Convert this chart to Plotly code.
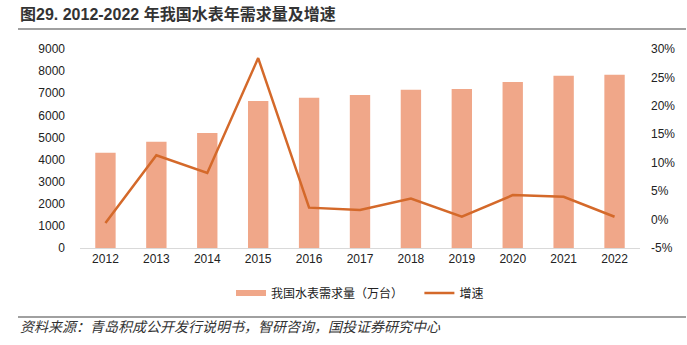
import plotly.graph_objects as go

years = ["2012", "2013", "2014", "2015", "2016", "2017", "2018", "2019", "2020", "2021", "2022"]
demand = [4310, 4810, 5200, 6650, 6800, 6920, 7160, 7195, 7510, 7795, 7840]
growth = [-0.6, 11.3, 8.2, 28.4, 2.1, 1.7, 3.7, 0.5, 4.3, 4.0, 0.5]

left_ticks = [0, 1000, 2000, 3000, 4000, 5000, 6000, 7000, 8000, 9000]
right_ticks = [-5, 0, 5, 10, 15, 20, 25, 30]

BAR_COLOR = "#F0A789"
LINE_COLOR = "#D4692A"
FONT = "Liberation Sans, Arial, Noto Sans CJK SC, sans-serif"
CJK = "Noto Sans CJK SC, sans-serif"

fig = go.Figure()
fig.add_trace(go.Bar(
    x=years, y=demand, name="我国水表需求量（万台）",
    marker=dict(color=BAR_COLOR, line=dict(width=0)),
    yaxis="y", showlegend=False,
))
# legend entry for the bars drawn as a wide swatch
fig.add_trace(go.Scatter(
    x=[None], y=[None], name="我国水表需求量（万台）\u3000\u00a0\u00a0", mode="lines",
    line=dict(color=BAR_COLOR, width=6), yaxis="y",
))
fig.add_trace(go.Scatter(
    x=years, y=growth, name="增速", mode="lines",
    line=dict(color=LINE_COLOR, width=2.5),
    yaxis="y2",
))

fig.update_layout(
    width=687, height=345,
    margin=dict(l=80, r=47, t=49, b=97),
    paper_bgcolor="white", plot_bgcolor="white",
    bargap=0.6,
    font=dict(family=FONT, size=12, color="#222"),
    showlegend=True,
    legend=dict(
        orientation="h", x=0.5, xanchor="center", y=-0.226, yanchor="middle",
        font=dict(family=CJK, size=12, color="#222"),
        itemwidth=30, tracegroupgap=0,
    ),
    xaxis=dict(
        showgrid=False, showline=True, linecolor="#D9D9D9", linewidth=1,
        ticks="", tickfont=dict(size=12, color="#222"),
    ),
    yaxis=dict(
        range=[0, 9000], tickvals=left_ticks, showgrid=False, zeroline=False,
        ticks="", tickfont=dict(size=12, color="#222"), ticklabelstandoff=14,
    ),
    yaxis2=dict(
        range=[-5, 30], tickvals=right_ticks, ticktext=[f"{v}%" for v in right_ticks],
        overlaying="y", side="right", showgrid=False, zeroline=False,
        ticks="", tickfont=dict(size=12, color="#222"), ticklabelstandoff=10,
    ),
    shapes=[
        dict(type="line", xref="paper", yref="paper",
             x0=-62/560, x1=(686-80)/560, y0=(248-29)/199, y1=(248-29)/199,
             line=dict(color="#A0A0A0", width=2)),
        dict(type="line", xref="paper", yref="paper",
             x0=-62/560, x1=(686-80)/560, y0=(248-317)/199, y1=(248-317)/199,
             line=dict(color="#A0A0A0", width=2)),
    ],
    annotations=[
        dict(text="<b>图29. 2012-2022 年我国水表年需求量及增速</b>", xref="paper", yref="paper",
             x=-62/560, y=(248-14)/199, xanchor="left", yanchor="middle", showarrow=False,
             font=dict(family=FONT, size=16, color="#333")),
        dict(text="<i>资料来源：青岛积成公开发行说明书，智研咨询，国投证券研究中心</i>", xref="paper", yref="paper",
             x=-62/560, y=(248-326)/199, xanchor="left", yanchor="middle", showarrow=False,
             font=dict(family=CJK, size=14, color="#333")),
    ],
)

fig.write_html("out.html")
